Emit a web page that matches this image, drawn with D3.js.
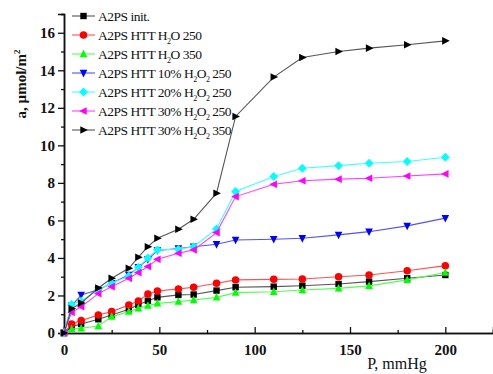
<!DOCTYPE html>
<html>
<head>
<meta charset="utf-8">
<script src="https://cdn.jsdelivr.net/npm/d3@7"></script>
<style>
  body { margin: 0; background: #fff; }
  svg text { font-family: "Liberation Serif", "Times New Roman", "DejaVu Serif", serif; }
</style>
</head>
<body>
<div class="chart"></div>
<script>
//Pressure values (mmHg), shared by all series
var pressure = [0, 4, 9, 18, 25, 34, 39, 44, 49, 60, 68, 80, 90, 110, 125, 144, 160, 180, 200];

//Adsorption a, µmol/m2
var initVals   = [0, 0.34, 0.48, 0.73, 0.96, 1.26, 1.5, 1.72, 1.9, 2.03, 2.05, 2.26, 2.44, 2.47, 2.52, 2.61, 2.74, 2.92, 3.09];
var h2o250     = [0, 0.48, 0.66, 0.96, 1.14, 1.49, 1.7, 2.08, 2.24, 2.35, 2.44, 2.65, 2.83, 2.86, 2.88, 3.0, 3.09, 3.32, 3.59];
var h2o350     = [0, 0.21, 0.25, 0.37, 0.87, 1.14, 1.32, 1.46, 1.58, 1.67, 1.76, 1.9, 2.15, 2.2, 2.29, 2.38, 2.51, 2.83, 3.22];
var h2o2_10_250 = [0, 1.45, 2.03, 2.3, 2.65, 3.1, 3.5, 3.93, 4.4, 4.5, 4.6, 4.73, 4.96, 5.0, 5.05, 5.23, 5.4, 5.71, 6.12];
var h2o2_20_250 = [0, 1.53, 1.7, 2.3, 2.65, 3.04, 3.5, 4.0, 4.43, 4.46, 4.6, 5.55, 7.54, 8.34, 8.78, 8.92, 9.05, 9.14, 9.37];
var h2o2_30_250 = [0, 1.1, 1.4, 2.1, 2.47, 2.92, 3.22, 3.54, 3.93, 4.25, 4.43, 5.35, 7.27, 7.93, 8.11, 8.2, 8.25, 8.37, 8.48];
var h2o2_30_350 = [0, 1.3, 1.6, 2.4, 2.92, 3.45, 4.04, 4.6, 5.05, 5.53, 6.06, 7.45, 11.54, 13.64, 14.68, 15.0, 15.18, 15.36, 15.57];

//Legend labels: plain / subscript parts alternate
var labels = [
  ["A2PS init."],
  ["A2PS HTT H", "2", "O 250"],
  ["A2PS HTT H", "2", "O 350"],
  ["A2PS HTT 10% H", "2", "O", "2", " 250"],
  ["A2PS HTT 20% H", "2", "O", "2", " 250"],
  ["A2PS HTT 30% H", "2", "O", "2", " 250"],
  ["A2PS HTT 30% H", "2", "O", "2", " 350"]
];

var seriesVals = [initVals, h2o250, h2o350, h2o2_10_250, h2o2_20_250, h2o2_30_250, h2o2_30_350];
var markColors = ["#000", "#ff0000", "#00ff00", "#0000ff", "#00ffff", "#ff00ff", "#000"];
var lineColors = ["#555", "#ff5050", "#50ff50", "#5050ff", "#40ffff", "#ff40ff", "#555"];
var symbols = ["square", "circle", "up", "down", "diamond", "left", "right"];

var serif = "'Liberation Serif', 'Times New Roman', 'DejaVu Serif', serif";

//Width and height
var w = 493;
var h = 374;

var svg = d3.select(".chart")
    .append("svg")
    .attr("width", w)
    .attr("height", h);

//Scales
var xScale = d3.scaleLinear().domain([0, 225]).range([64, 493]);
var yScale = d3.scaleLinear().domain([0, 17]).range([333, 14]);

//Axes
var yMinor = d3.axisLeft(yScale).tickValues(d3.range(1, 18, 2)).tickSize(3).tickFormat("");
svg.append("g").attr("transform", "translate(64,0)").call(yMinor);

var yAxis = d3.axisLeft(yScale).tickValues(d3.range(0, 17, 2)).tickSize(6).tickPadding(3);
svg.append("g").attr("class", "y-axis").attr("transform", "translate(64,0)").call(yAxis);

var xMinor = d3.axisBottom(xScale).tickValues([25, 75, 125, 175, 225]).tickSize(-3).tickFormat("");
svg.append("g").attr("transform", "translate(0,333)").call(xMinor);

var xAxis = d3.axisBottom(xScale).tickValues([0, 50, 100, 150, 200]).tickSize(-6).tickPadding(8);
svg.append("g").attr("class", "x-axis").attr("transform", "translate(0,333)").call(xAxis);

svg.selectAll("g").attr("font-family", null);
svg.selectAll(".domain").attr("stroke", "#111").attr("stroke-width", 1.5);
svg.selectAll(".tick line").attr("stroke", "#111").attr("stroke-width", 1.3);
svg.selectAll(".y-axis text, .x-axis text")
    .style("font-family", serif)
    .attr("font-size", 15)
    .attr("font-weight", "bold")
    .attr("fill", "#111");
svg.selectAll(".x-axis text").attr("dy", "0.9em");

//Axis titles
var yTitle = svg.append("text")
    .attr("transform", "translate(26,84) rotate(-90)")
    .attr("text-anchor", "middle")
    .style("font-family", serif)
    .attr("font-size", 15)
    .attr("font-weight", "bold")
    .attr("fill", "#111");
yTitle.append("tspan").text("a, \u00b5mol/m");
yTitle.append("tspan").attr("font-size", 9).attr("dy", -6).text("2");

svg.append("text")
    .attr("x", 397)
    .attr("y", 369)
    .attr("text-anchor", "middle")
    .style("font-family", serif)
    .attr("font-size", 16)
    .attr("fill", "#111")
    .text("P, mmHg");

//Marker shapes
function markerPath(type) {
  var s = 3.8;
  if (type === "square") return "M-3.2,-3.2h6.4v6.4h-6.4z";
  if (type === "up") return "M0," + (-s - 0.6) + "L" + s + "," + (s - 0.6) + "L" + (-s) + "," + (s - 0.6) + "Z";
  if (type === "down") return "M0," + (s + 0.6) + "L" + s + "," + (-s + 0.6) + "L" + (-s) + "," + (-s + 0.6) + "Z";
  if (type === "left") return "M" + (-s - 0.6) + ",0L" + (s - 0.6) + "," + (-s) + "L" + (s - 0.6) + "," + s + "Z";
  if (type === "right") return "M" + (s + 0.6) + ",0L" + (-s + 0.6) + "," + (-s) + "L" + (-s + 0.6) + "," + s + "Z";
  if (type === "diamond") return "M0,-4.4L4.4,0L0,4.4L-4.4,0Z";
  return d3.symbol(d3.symbolCircle, 44)();
}

var line = d3.line()
    .x(d => xScale(d[0]))
    .y(d => yScale(d[1]));

seriesVals.forEach((vals, i) => {
  var pts = pressure.map((p, j) => [p, vals[j]]);
  svg.append("path")
      .datum(pts)
      .attr("d", line)
      .attr("fill", "none")
      .attr("stroke", lineColors[i])
      .attr("stroke-width", 1.1);
  svg.selectAll(".m" + i)
      .data(pts)
      .enter()
      .append("path")
      .attr("class", "m" + i)
      .attr("transform", d => "translate(" + xScale(d[0]) + "," + yScale(d[1]) + ")")
      .attr("d", markerPath(symbols[i]))
      .attr("fill", markColors[i]);
});

//Legend
var legend = svg.append("g");
labels.forEach((lab, i) => {
  var y = 16 + i * 19;
  legend.append("line")
      .attr("x1", 72).attr("x2", 95)
      .attr("y1", y).attr("y2", y)
      .attr("stroke", lineColors[i]).attr("stroke-width", 1.1);
  legend.append("path")
      .attr("transform", "translate(83.5," + y + ")")
      .attr("d", markerPath(symbols[i]))
      .attr("fill", markColors[i]);
  var t = legend.append("text")
      .attr("x", 98)
      .attr("y", y + 4.5)
      .style("font-family", serif)
      .attr("font-size", 13.5)
      .attr("letter-spacing", -0.5)
      .attr("fill", "#111");
  lab.forEach((part, k) => {
    var ts = t.append("tspan").text(part);
    if (k % 2 === 1) ts.attr("font-size", 8).attr("dy", 4);
    else if (k > 0) ts.attr("dy", -4);
  });
});
</script>
</body>
</html>
